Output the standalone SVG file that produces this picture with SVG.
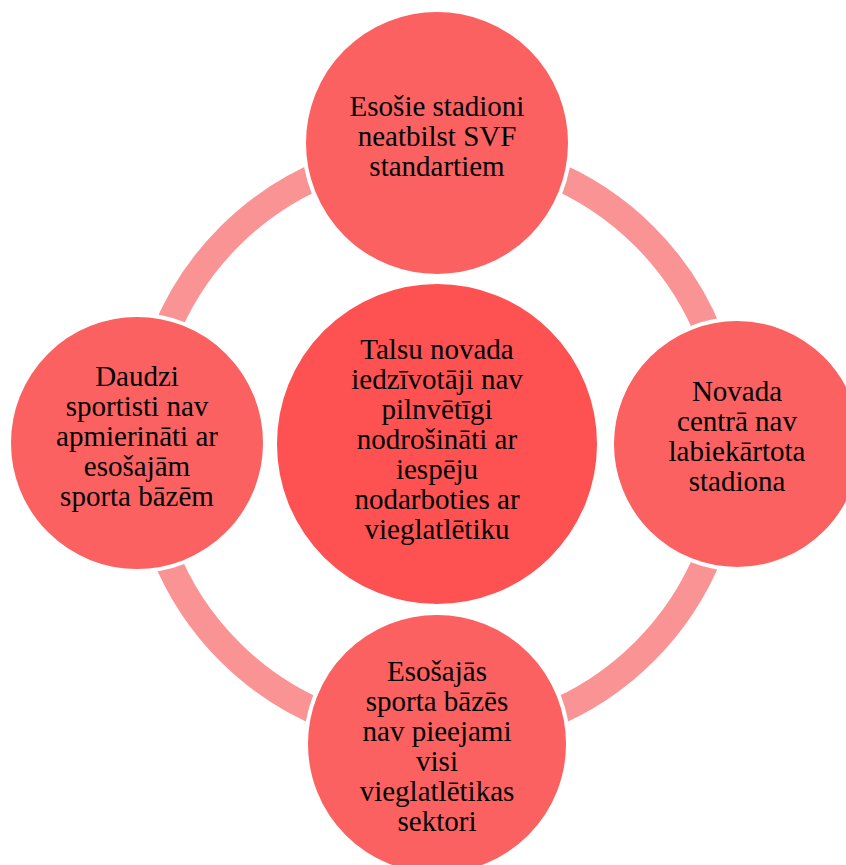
<svg xmlns="http://www.w3.org/2000/svg" width="846" height="865" viewBox="0 0 846 865">
<style>
.arc{fill:none;stroke:#FA9494;stroke-width:27}
.node{fill:#FB6161;stroke:#FFFFFF;stroke-width:4}
.main{fill:#FE5252;stroke:#FFFFFF;stroke-width:4}
text{font-family:"Liberation Serif","Times New Roman",serif;font-size:29px;fill:#000000;text-anchor:middle}
</style>
<rect width="846" height="865" fill="#FFFFFF"/>
<g id="connectors">
<path class="arc" d="M437 150.5 A293.5 293.5 0 0 1 730.5 444"/>
<path class="arc" d="M730.5 444 A293.5 293.5 0 0 1 437 737.5"/>
<path class="arc" d="M437 737.5 A293.5 293.5 0 0 1 143.5 444"/>
<path class="arc" d="M143.5 444 A293.5 293.5 0 0 1 437 150.5"/>
</g>
<g id="node-center">
<circle class="main" cx="437" cy="444" r="162"/>
<text x="437" y="359">Talsu novada</text>
<text x="437" y="389">iedzīvotāji nav</text>
<text x="437" y="419">pilnvētīgi</text>
<text x="437" y="449">nodrošināti ar</text>
<text x="437" y="479">iespēju</text>
<text x="437" y="509">nodarboties ar</text>
<text x="437" y="539">vieglatlētiku</text>
</g>
<g id="node-top">
<circle class="node" cx="437" cy="143" r="133"/>
<text x="437" y="116">Esošie stadioni</text>
<text x="437" y="146">neatbilst SVF</text>
<text x="437" y="176">standartiem</text>
</g>
<g id="node-right">
<circle class="node" cx="737" cy="444" r="125"/>
<text x="737" y="400.5">Novada</text>
<text x="737" y="430.7">centrā nav</text>
<text x="737" y="461">labiekārtota</text>
<text x="737" y="491">stadiona</text>
</g>
<g id="node-bottom">
<circle class="node" cx="437" cy="744" r="131"/>
<text x="437" y="680.5">Esošajās</text>
<text x="437" y="710.5">sporta bāzēs</text>
<text x="437" y="740.5">nav pieejami</text>
<text x="437" y="770.5">visi</text>
<text x="437" y="800.5">vieglatlētikas</text>
<text x="437" y="830.5">sektori</text>
</g>
<g id="node-left">
<circle class="node" cx="137" cy="443" r="128"/>
<text x="137" y="386">Daudzi</text>
<text x="137" y="416">sportisti nav</text>
<text x="137" y="446">apmierināti ar</text>
<text x="137" y="476">esošajām</text>
<text x="137" y="506">sporta bāzēm</text>
</g>
</svg>
